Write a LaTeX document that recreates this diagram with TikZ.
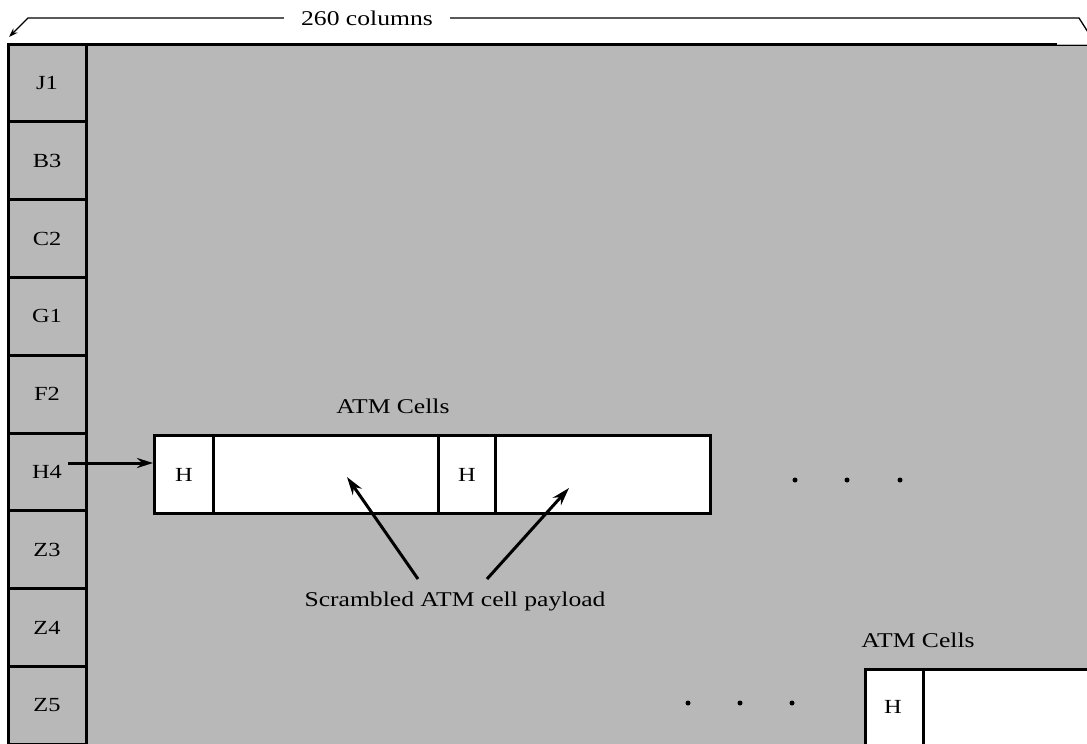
\documentclass[tikz,border=0pt]{standalone}
\usepackage{fontspec}
\setmainfont{Liberation Serif}[FakeStretch=1.22]
\usetikzlibrary{arrows.meta}
\definecolor{bg}{gray}{0.72}
\tikzset{
  frame/.style={line width=3pt, line cap=rect},
  rowcell/.style={draw, line width=3pt, fill=bg, minimum width=78pt, minimum height=77.8pt, inner sep=0pt, font=\fontsize{20}{22}\selectfont},
  cell/.style={draw, line width=3pt, fill=white, minimum height=78pt, inner sep=0pt, anchor=north west, font=\fontsize{20}{22}\selectfont},
  lbl/.style={inner sep=0pt, font=\fontsize{21}{24}\selectfont},
  dim/.style={line width=1.3pt},
  arr/.style={line width=3pt, -{Stealth[length=18pt, width=11pt]}},
  dot/.style={circle, fill=black, inner sep=0pt, minimum size=5pt}
}
\begin{document}
\begin{tikzpicture}[x=1pt, y=-1pt]
\useasboundingbox (0,0) rectangle (1087,744);
\clip (0,0) rectangle (1087,744);
\fill[white] (0,0) rectangle (1087,744);
\fill[bg] (8,44) rectangle (1087,744);
% frame
\draw[frame] (8,760) -- (8,44) -- (1055,44);
\draw[line width=1.5pt] (1055,45.5) -- (1090,45.5);
% dimension line
\node[lbl, inner xsep=17pt, inner ysep=0pt] (cols) at (367,18) {260 columns};
\coordinate (dl) at (28,18);
\coordinate (dtip) at (9,37);
\coordinate (dr) at (1079,18);
\coordinate (dre) at (1093,40);
\draw[dim, -{Stealth[length=9pt, width=6pt]}] (cols.west) -- (dl) -- (dtip);
\draw[dim] (cols.east) -- (dr) -- (dre);
% left column of rows
\foreach \lab [count=\i from 0] in {J1,B3,C2,G1,F2,H4,Z3,Z4,Z5}
  \node[rowcell] (r\lab) at (47, 44+77.8*\i+38.9) {\lab};
% upper ATM cells
\node[lbl, anchor=base] (atm1) at (393,413) {ATM Cells};
\node[cell, minimum width=59pt] (h1) at (153,434) {H};
\node[cell, minimum width=225pt] (p1) at (212,434) {};
\node[cell, minimum width=57pt] (h2) at (437,434) {H};
\node[cell, minimum width=215pt] (p2) at (494,434) {};
\coordinate (hin) at (153,463);
\coordinate (hstart) at (68,463);
\draw[line width=3pt, -{Stealth[length=16pt, width=10pt]}] (hstart) -- (hin);
% dots
\node[dot] (d1) at (795,480) {};
\node[dot] (d2) at (847,480) {};
\node[dot] (d3) at (900,480) {};
% scrambled payload
\node[lbl, anchor=base] (scr) at (455,606) {Scrambled ATM cell payload};
\coordinate (s1) at (418,579);
\coordinate (s2) at (487,579);
\coordinate (t1) at (347,477);
\coordinate (t2) at (569,488);
\draw[arr] (s1) -- (t1);
\draw[arr] (s2) -- (t2);
% lower dots
\node[dot] (d4) at (688,703) {};
\node[dot] (d5) at (740,703) {};
\node[dot] (d6) at (792,703) {};
% lower ATM cells
\node[lbl, anchor=base] (atm2) at (918,647) {ATM Cells};
\node[cell, minimum width=58pt, minimum height=100pt] (h3) at (864,668) {};
\node[font=\fontsize{20}{22}\selectfont, inner sep=0pt] (h3t) at (893,707) {H};
\node[cell, minimum width=200pt, minimum height=100pt] (p3) at (922,668) {};
\end{tikzpicture}
\end{document}
